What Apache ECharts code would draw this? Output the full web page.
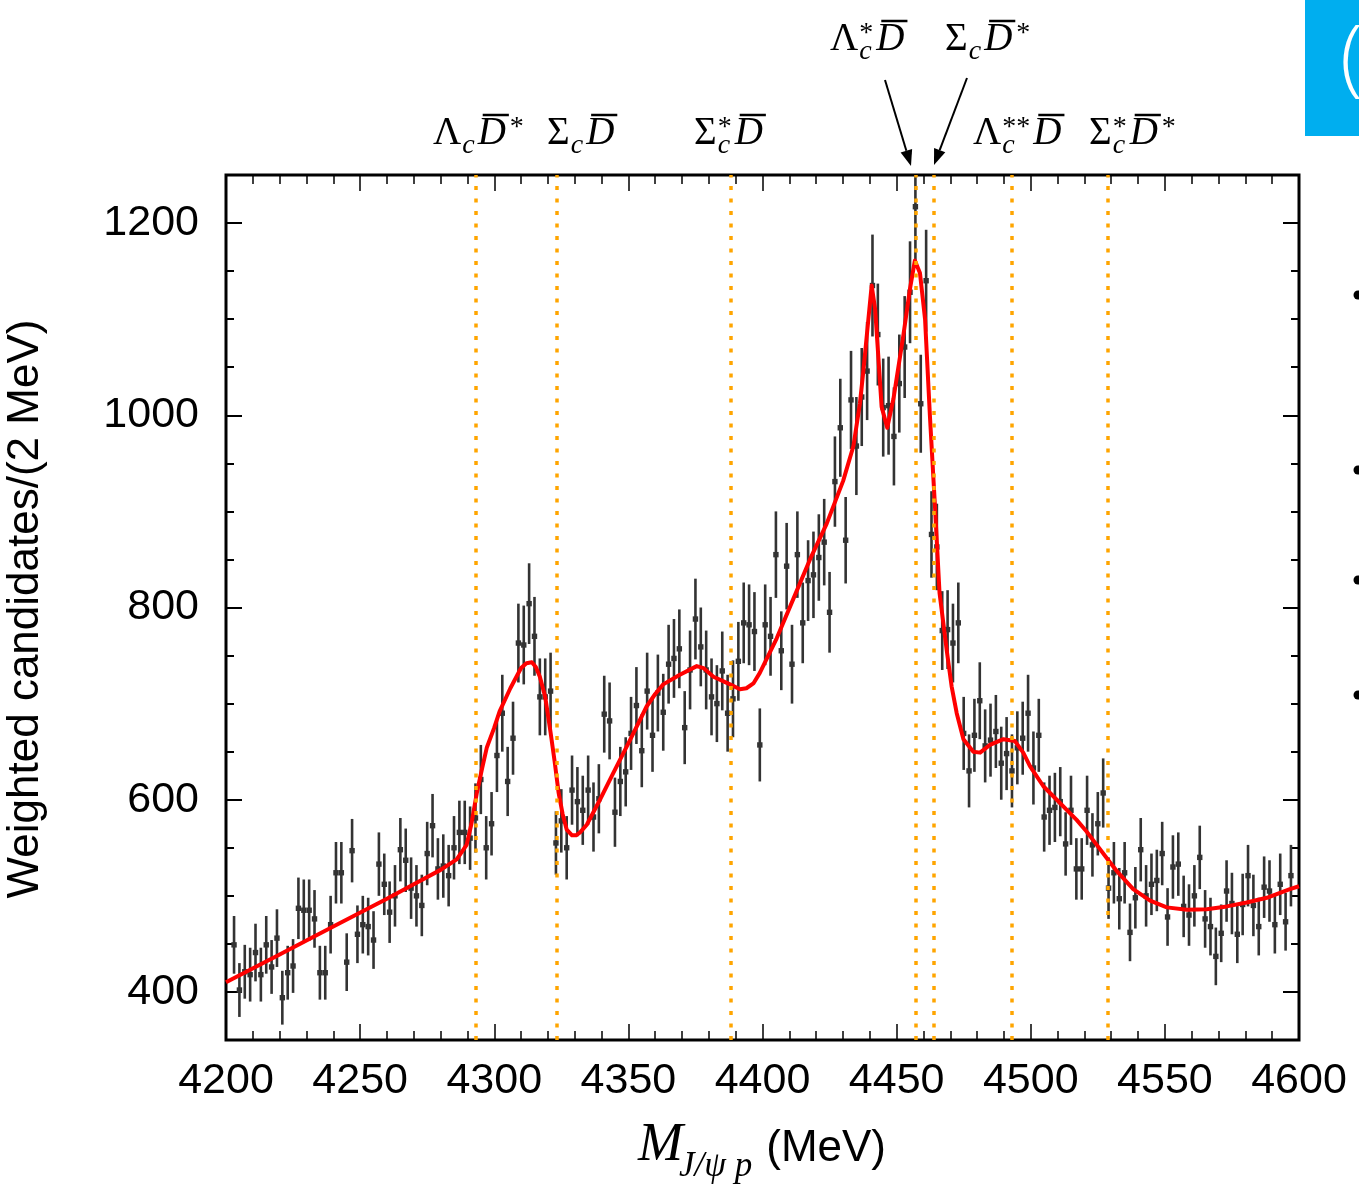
<!DOCTYPE html>
<html><head><meta charset="utf-8">
<script src="https://cdn.jsdelivr.net/npm/echarts/dist/echarts.min.js"></script>
<style>html,body{margin:0;padding:0;background:#fff}#chart{width:1359px;height:1185px}</style>
</head><body><div id="chart"></div>
<script>
// ---------- data ----------
const binStart = 4203;      // centre of first visible 2 MeV bin
const binWidth = 2;
const yields = [
  449, 402, 421, 418, 441, 418, 449, 426, 456, 394,
  420, 427, 487, 485, 485, 476, 420, 420, 470, 524,
  524, 431, 547, 460, 470, 468, 454, 533, 512, 483,
  500, 548, 537, 508, 500, 490, 544, 573, 528, 531,
  521, 550, 566, 566, 560, 581, 621, 550, 575, 646,
  690, 619, 664, 763, 761, 804, 770, 707, 707, 713,
  555, 578, 550, 610, 598, 589, 610, 582, 601, 689,
  682, 587, 619, 629, 669, 698, 651, 713, 667, 711,
  691, 741, 747, 757, 675, 735, 788, 759, 735, 707,
  700, 734, 690, 705, 744, 784, 782, 775, 657, 782,
  770, 855, 755, 843, 741, 855, 784, 828, 834, 852,
  868, 795, 931, 987, 870, 1016, 968, 1019, 1046, 1135,
  1084, 1008, 1010, 978, 1033, 1071, 1128, 1217, 1012, 1140,
  876, 863, 776, 777, 763, 784, 669, 630, 667, 703,
  656, 662, 671, 638, 648, 630, 654, 664, 690, 633,
  667, 582, 589, 592, 598, 554, 589, 528, 528, 589,
  553, 575, 607, 508, 524, 497, 524, 462, 498, 548,
  500, 512, 516, 544, 478, 530, 533, 489, 480, 500,
  540, 476, 468, 437, 461, 505, 492, 460, 491, 521,
  490, 468, 509, 505, 470, 512, 473, 521
];
const errors = [
  30, 28, 28, 28, 30, 28, 30, 28, 30, 28,
  28, 28, 32, 32, 32, 30, 28, 28, 30, 32,
  32, 30, 33, 30, 30, 30, 30, 33, 32, 32,
  32, 33, 33, 32, 32, 32, 33, 33, 32, 33,
  32, 33, 33, 33, 33, 36, 36, 33, 33, 38,
  40, 36, 38, 41, 41, 42, 41, 40, 40, 40,
  33, 33, 33, 36, 36, 36, 36, 36, 36, 40,
  40, 36, 36, 36, 38, 40, 38, 40, 38, 40,
  40, 41, 41, 41, 38, 41, 42, 41, 41, 40,
  40, 41, 40, 40, 41, 42, 42, 41, 38, 42,
  41, 45, 41, 45, 41, 45, 42, 42, 45, 45,
  45, 42, 47, 51, 45, 51, 51, 51, 51, 53,
  53, 51, 51, 51, 51, 53, 53, 56, 51, 53,
  45, 45, 41, 41, 41, 42, 38, 38, 38, 40,
  38, 38, 38, 38, 38, 38, 38, 38, 40, 38,
  38, 36, 36, 36, 36, 33, 36, 32, 32, 36,
  33, 33, 36, 32, 32, 32, 32, 30, 32, 33,
  32, 32, 32, 33, 30, 33, 33, 32, 32, 32,
  33, 30, 30, 30, 30, 32, 32, 30, 32, 32,
  32, 30, 32, 32, 30, 32, 30, 32
];
const fitMass = [4200, 4220, 4240, 4260, 4270, 4280, 4286, 4289.7, 4291.5, 4293.5, 4295.5, 4297.2, 4300, 4302, 4306, 4310, 4312, 4314, 4315.5, 4317, 4319, 4321, 4322.5, 4324, 4325.5, 4327, 4329, 4330.5, 4332, 4334.5, 4339.4, 4344.4, 4350.6, 4356.8, 4360, 4363, 4369.2, 4375.5, 4378, 4381.7, 4387.9, 4391.6, 4394, 4396.6, 4399, 4405.3, 4411.5, 4417.7, 4423.9, 4430.1, 4433.9, 4436.3, 4437.6, 4439.4, 4440.7, 4442, 4443.2, 4444.4, 4446.5, 4448.8, 4452.5, 4455, 4456.8, 4458.7, 4460.6, 4462.4, 4464.3, 4466, 4468.7, 4470.5, 4472.4, 4474.9, 4478.6, 4481.1, 4484.8, 4489.8, 4494.1, 4497.2, 4499.7, 4504.7, 4509.7, 4514.6, 4517.1, 4520.8, 4524.6, 4529.5, 4532, 4538.2, 4544.5, 4550.7, 4558.2, 4565.6, 4573.1, 4580.5, 4588, 4596.6, 4600];
const fitYield = [410, 439, 468, 497, 512, 527, 538, 553, 575, 607, 633, 654, 675, 692, 716, 737, 742, 743, 738, 728, 707, 670, 640, 607, 585, 569, 563, 563, 566, 574, 600, 628, 662, 697, 710, 720, 730, 739, 737, 728, 720, 715, 716, 721, 732, 768, 809, 850, 887, 932, 968, 1012, 1046, 1098, 1135, 1110, 1060, 1009, 987, 1017, 1083, 1132, 1161, 1148, 1100, 1000, 905, 815, 755, 718, 690, 663, 650, 649, 657, 663, 661, 649, 635, 614, 600, 586, 579, 567, 553, 535, 526, 507, 495, 488, 485.5, 486, 489, 493, 498, 507, 510];
const thresholds = [4293.2, 4323.4, 4388.0, 4457.1, 4464.0, 4493.0, 4528.7];
const xMin = 4200, xMax = 4600, xStep = 50;
const yMin = 350, yMax = 1250, yMinorStep = 50, yMajorStep = 200;

// ---------- build ----------
const points = yields.map((v, i) => [binStart + i * binWidth, v, errors[i]]);
const fitData = fitMass.map((m, i) => [m, fitYield[i]]);

const ctx = document.createElement('canvas').getContext('2d');
function measure(t, font) { ctx.font = font; return ctx.measureText(t).width; }

const F_UP = '39px "Liberation Serif"';
const F_IT = 'italic 39px "Liberation Serif"';
const F_SUB = 'italic 28px "Liberation Serif"';
const F_SUP = '28px "Liberation Serif"';
const gfx = [];
function txt(t, x, y, font, align, extra, color) {
  gfx.push(Object.assign({type: 'text', x: x, y: y, z: 100,
    style: {text: t, font: font, fill: color || '#000', align: align || 'left', verticalAlign: 'middle'}}, extra || {}));
}
function buildLabel(x0, yc, parts) {
  let x = x0;
  parts.forEach(p => {
    const font = p.italic ? F_IT : F_UP;
    txt(p.base, x, yc, font);
    const w = measure(p.base, font);
    if (p.bar) gfx.push({type: 'line', z: 100, shape: {x1: x + 5, y1: yc - 19, x2: x + w + 3, y2: yc - 19},
      style: {stroke: '#000', lineWidth: 2.5}});
    let sw = 0;
    const sx = x + w + 1;
    if (p.sub) { txt(p.sub, sx, yc + 12, F_SUB); sw = Math.max(sw, measure(p.sub, F_SUB)); }
    if (p.sup) { txt(p.sup, sx + (p.italic ? 3 : 0), yc - 6, F_SUP); sw = Math.max(sw, measure(p.sup, F_SUP) + (p.italic ? 3 : 0)); }
    x = sx + sw + 3;
  });
}
const D = {base: 'D', italic: true, bar: true};
const Dstar = {base: 'D', italic: true, bar: true, sup: '*'};
buildLabel(433, 134, [{base: 'Λ', sub: 'c'}, Dstar]);
buildLabel(547, 134, [{base: 'Σ', sub: 'c'}, D]);
buildLabel(694, 134, [{base: 'Σ', sub: 'c', sup: '*'}, D]);
buildLabel(830, 40, [{base: 'Λ', sub: 'c', sup: '*'}, D]);
buildLabel(945, 40, [{base: 'Σ', sub: 'c'}, Dstar]);
buildLabel(973, 134, [{base: 'Λ', sub: 'c', sup: '**'}, D]);
buildLabel(1089, 134, [{base: 'Σ', sub: 'c', sup: '*'}, Dstar]);

function arrow(x1, y1, x2, y2) {
  const a = Math.atan2(y2 - y1, x2 - x1), L = 16, W = 6;
  const bx = x2 - L * Math.cos(a), by = y2 - L * Math.sin(a);
  const px = -Math.sin(a) * W, py = Math.cos(a) * W;
  gfx.push({type: 'line', z: 100, shape: {x1: x1, y1: y1, x2: bx, y2: by}, style: {stroke: '#000', lineWidth: 2}});
  gfx.push({type: 'polygon', z: 100, shape: {points: [[x2, y2], [bx + px, by + py], [bx - px, by - py]]}, style: {fill: '#000'}});
}
arrow(885, 80, 911, 166);
arrow(967, 78, 934, 165);

// axis titles
txt('Weighted candidates/(2 MeV)', 26, 609, '44px "Liberation Sans"', 'center', {rotation: Math.PI / 2});
(function () {
  const fM = 'italic 54px "Liberation Serif"', fS = 'italic 35px "Liberation Serif"', fU = '44px "Liberation Sans"';
  let x = 638;
  txt('M', x, 1146, fM); x += measure('M', fM) - 4;
  txt('J/ψ p', x, 1167, fS); x += measure('J/ψ p', fS) + 14;
  txt('(MeV)', x, 1149, fU);
})();

// slide remnants on the right edge
gfx.push({type: 'rect', z: 100, shape: {x: 1305, y: 0, width: 60, height: 136}, style: {fill: '#00AEEF'}});
txt('(', 1340, 62, '300 84px "Open Sans"', 'left', null, '#fff');
[295, 470, 580, 695].forEach(y => gfx.push({type: 'circle', z: 100, shape: {cx: 1358, cy: y, r: 4.5}, style: {fill: '#000'}}));

const tickStyle = {color: '#000', width: 2};
const xBase = {type: 'value', min: xMin, max: xMax, interval: xStep, splitLine: {show: false}, axisLine: {show: false},
  axisTick: {inside: true, length: 16, lineStyle: {color: '#000', width: 1.5}},
  minorTick: {show: true, splitNumber: 5, length: 9, lineStyle: {color: '#000', width: 1.5}}, minorSplitLine: {show: false}};
const yBase = {type: 'value', min: yMin, max: yMax, splitLine: {show: false}, axisLine: {show: false}};
const labelFont = {fontSize: 43, fontFamily: 'Liberation Sans', color: '#000'};

const chart = echarts.init(document.getElementById('chart'), null, {renderer: 'canvas'});
chart.setOption({
  animation: false,
  backgroundColor: '#fff',
  grid: {left: 226, right: 60, top: 175, bottom: 145, show: true, borderColor: '#000', borderWidth: 3, backgroundColor: 'transparent'},
  xAxis: [
    Object.assign({}, xBase, {position: 'bottom', axisLabel: Object.assign({margin: 20, formatter: v => String(v)}, labelFont)}),
    Object.assign({}, xBase, {position: 'top', axisLabel: {show: false}})
  ],
  yAxis: [
    Object.assign({}, yBase, {position: 'left', interval: yMinorStep, axisTick: {inside: true, length: 8, lineStyle: tickStyle},
      axisLabel: Object.assign({margin: 27, formatter: v => (v % yMajorStep === 0 ? String(v) : '')}, labelFont)}),
    Object.assign({}, yBase, {position: 'left', minInterval: yMajorStep, maxInterval: yMajorStep, axisTick: {inside: true, length: 16, lineStyle: tickStyle}, axisLabel: {show: false}}),
    Object.assign({}, yBase, {position: 'right', interval: yMinorStep, axisTick: {inside: true, length: 8, lineStyle: tickStyle}, axisLabel: {show: false}}),
    Object.assign({}, yBase, {position: 'right', minInterval: yMajorStep, maxInterval: yMajorStep, axisTick: {inside: true, length: 16, lineStyle: tickStyle}, axisLabel: {show: false}})
  ],
  series: [
    {
      name: 'thresholds', type: 'line', data: [], z: 1, silent: true,
      markLine: {silent: true, symbol: ['none', 'none'], label: {show: false},
        lineStyle: {color: '#FFA500', width: 3.5, type: [4, 8.5]},
        data: thresholds.map(t => ({xAxis: t}))}
    },
    {
      name: 'data', type: 'custom', z: 2, data: points, encode: {x: 0, y: 1},
      renderItem: function (params, api) {
        const x = api.value(0), y = api.value(1), e = api.value(2);
        const lo = api.coord([x, Math.max(y - e, yMin)]);
        const hi = api.coord([x, Math.min(y + e, yMax)]);
        const c = api.coord([x, y]);
        return {type: 'group', children: [
          {type: 'line', shape: {x1: lo[0], y1: lo[1], x2: hi[0], y2: hi[1]}, style: {stroke: '#333', lineWidth: 2.6}},
          {type: 'rect', shape: {x: c[0] - 2.7, y: c[1] - 2.7, width: 5.4, height: 5.4}, style: {fill: '#333'}}
        ]};
      }
    },
    {
      name: 'fit', type: 'line', z: 3, data: fitData, showSymbol: false, smooth: false,
      lineStyle: {color: '#ff0000', width: 4, join: 'round'}
    }
  ],
  graphic: {elements: gfx}
});
</script></body></html>
